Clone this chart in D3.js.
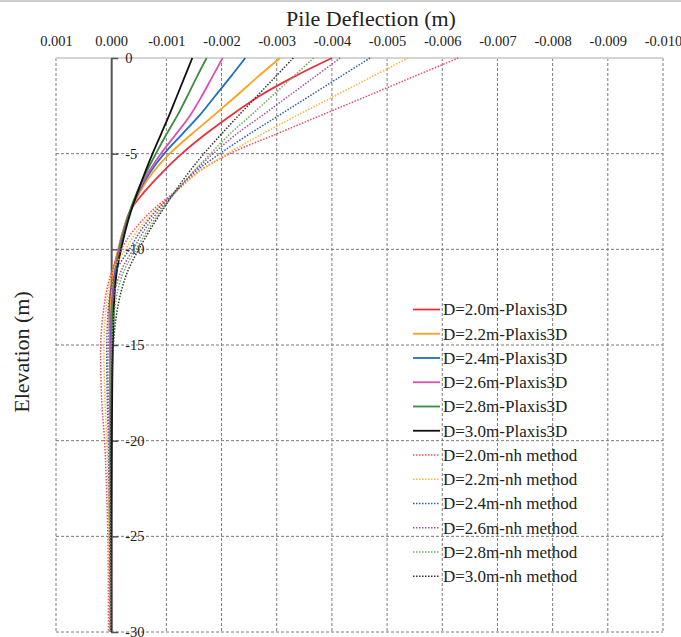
<!DOCTYPE html>
<html>
<head>
<meta charset="utf-8">
<script src="https://cdn.jsdelivr.net/npm/d3@7"></script>
<style>
  html, body { margin: 0; padding: 0; background: #fff; }
  svg { display: block; }
  svg text { font-family: "Liberation Serif", "Times New Roman", "DejaVu Serif", serif !important; }
</style>
</head>
<body>
<svg id="chart" width="681" height="637"></svg>
<script>
// ---------- data ----------
const xTicks = [0.001, 0, -0.001, -0.002, -0.003, -0.004, -0.005, -0.006, -0.007, -0.008, -0.009, -0.010];
const xTickLabels = ["0.001", "0.000", "-0.001", "-0.002", "-0.003", "-0.004", "-0.005", "-0.006", "-0.007", "-0.008", "-0.009", "-0.010"];
const yTicks = [0, -5, -10, -15, -20, -25, -30];
const yTickLabels = ["0", "-5", "-10", "-15", "-20", "-25", "-30"];

const seriesNames = [
  "D=2.0m-Plaxis3D", "D=2.2m-Plaxis3D", "D=2.4m-Plaxis3D", "D=2.6m-Plaxis3D", "D=2.8m-Plaxis3D", "D=3.0m-Plaxis3D",
  "D=2.0m-nh method", "D=2.2m-nh method", "D=2.4m-nh method", "D=2.6m-nh method", "D=2.8m-nh method", "D=3.0m-nh method"
];

// elevations (m) for Plaxis3D results
const elevPlaxis = [0, -1, -2, -3, -4, -5, -6, -7, -8, -9, -10, -11, -12, -13, -14, -15, -17, -20, -25, -30];
const plaxisD20 = [-0.00400, -0.00330, -0.00268, -0.00217, -0.00170, -0.00128, -0.00092, -0.00060, -0.00034, -0.00022, -0.00013, -0.00005, 0.00000, 0.00003, 0.00003, 0.00002, 0.00002, 0.00001, 0, 0];
const plaxisD22 = [-0.00306, -0.00265, -0.00226, -0.00186, -0.00145, -0.00106, -0.00075, -0.00052, -0.00035, -0.00022, -0.00013, -0.00006, -0.00002, 0.00001, 0.00002, 0.00002, 0.00002, 0.00001, 0, 0];
const plaxisD24 = [-0.00243, -0.00216, -0.00188, -0.00160, -0.00128, -0.00096, -0.00070, -0.00050, -0.00035, -0.00023, -0.00014, -0.00008, -0.00004, -0.00001, 0, 0.00001, 0.00001, 0.00001, 0, 0];
const plaxisD26 = [-0.00202, -0.00183, -0.00164, -0.00143, -0.00117, -0.00090, -0.00067, -0.00049, -0.00034, -0.00023, -0.00015, -0.00009, -0.00005, -0.00002, -0.00001, 0, 0.00001, 0.00001, 0, 0];
const plaxisD28 = [-0.00173, -0.00155, -0.00138, -0.00120, -0.00100, -0.00081, -0.00063, -0.00047, -0.00034, -0.00024, -0.00016, -0.00010, -0.00006, -0.00003, -0.00002, -0.00001, 0, 0, 0, 0];
const plaxisD30 = [-0.00147, -0.00133, -0.00119, -0.00105, -0.00090, -0.00075, -0.00061, -0.00048, -0.00036, -0.00026, -0.00018, -0.00011, -0.00007, -0.00005, -0.00004, -0.00003, -0.00002, -0.00001, 0, 0];

// elevations (m) for nh method results
const elevNh = [0, -1, -2, -3, -4, -5, -6, -7, -8, -9, -10, -11, -12, -13, -14, -15, -16, -18, -20, -22, -25, -28, -30];
const nhD20 = [-0.00629, -0.00546, -0.00463, -0.00380, -0.00297, -0.00215, -0.00155, -0.00115, -0.00073, -0.00041, -0.00018, -0.00003, 0.00007, 0.00013, 0.00017, 0.00019, 0.00019, 0.00017, 0.00012, 0.00009, 0.00006, 0.00005, 0.00005];
const nhD22 = [-0.00538, -0.00471, -0.00404, -0.00337, -0.00272, -0.00210, -0.00157, -0.00117, -0.00078, -0.00048, -0.00026, -0.00005, 0.00004, 0.00009, 0.00012, 0.00013, 0.00013, 0.00011, 0.00008, 0.00006, 0.00004, 0.00003, 0.00003];
const nhD24 = [-0.00469, -0.00414, -0.00359, -0.00304, -0.00249, -0.00197, -0.00150, -0.00116, -0.00081, -0.00054, -0.00033, -0.00011, 0.00000, 0.00005, 0.00007, 0.00008, 0.00008, 0.00007, 0.00005, 0.00004, 0.00003, 0.00002, 0.00002];
const nhD26 = [-0.00415, -0.00368, -0.00321, -0.00274, -0.00226, -0.00185, -0.00148, -0.00117, -0.00086, -0.00060, -0.00040, -0.00020, -0.00008, -0.00001, 0.00003, 0.00005, 0.00006, 0.00005, 0.00004, 0.00003, 0.00002, 0.00001, 0.00001];
const nhD28 = [-0.00367, -0.00329, -0.00291, -0.00253, -0.00214, -0.00180, -0.00147, -0.00117, -0.00090, -0.00066, -0.00045, -0.00025, -0.00013, -0.00007, -0.00003, -0.00001, 0.00001, 0.00002, 0.00002, 0.00002, 0.00001, 0.00001, 0.00001];
const nhD30 = [-0.00330, -0.00297, -0.00264, -0.00231, -0.00199, -0.00168, -0.00140, -0.00115, -0.00092, -0.00070, -0.00050, -0.00032, -0.00020, -0.00012, -0.00007, -0.00004, -0.00002, 0.00000, 0.00001, 0.00001, 0.00001, 0.00000, 0.00000];

// ---------- build series ----------
const solidColors = ["#e8303c", "#ffa01e", "#1f6fc0", "#dc4eb4", "#3d8c40", "#111111"];
const dotColors   = ["#f04a62", "#ffb436", "#2f5f9e", "#a4549c", "#62b05a", "#333333"];
const plaxisVals = [plaxisD20, plaxisD22, plaxisD24, plaxisD26, plaxisD28, plaxisD30];
const nhVals = [nhD20, nhD22, nhD24, nhD26, nhD28, nhD30];

const series = [];
plaxisVals.forEach((v, i) => series.push({
  name: seriesNames[i], color: solidColors[i], dotted: false,
  pts: v.map((d, j) => ({ d: d, z: elevPlaxis[j] }))
}));
nhVals.forEach((v, i) => series.push({
  name: seriesNames[6 + i], color: dotColors[i], dotted: true,
  pts: v.map((d, j) => ({ d: d, z: elevNh[j] }))
}));

// ---------- layout ----------
const FONT = '"Liberation Serif", "Times New Roman", "DejaVu Serif", serif';
const svg = d3.select("#chart");
const L = 56, R = 663, T = 58, B = 632;
const x = d3.scaleLinear().domain([0.001, -0.010]).range([L, R]);
const y = d3.scaleLinear().domain([0, -30]).range([T, B]);

svg.append("rect").attr("width", 681).attr("height", 637).attr("fill", "#fff");
// image top border line
svg.append("line").attr("x1", 0).attr("x2", 681).attr("y1", 1).attr("y2", 1)
  .attr("stroke", "#cfcfcf").attr("stroke-width", 2);

// grid
const grid = svg.append("g");
grid.selectAll("line.v").data(xTicks.filter(t => t !== 0)).join("line")
  .attr("x1", d => x(d)).attr("x2", d => x(d)).attr("y1", T).attr("y2", B)
  .attr("stroke", "#7a7a7a").attr("stroke-width", 1).attr("stroke-dasharray", "3,2");
grid.selectAll("line.h").data(yTicks.filter(t => t !== 0)).join("line")
  .attr("x1", L).attr("x2", R).attr("y1", d => y(d)).attr("y2", d => y(d))
  .attr("stroke", "#7a7a7a").attr("stroke-width", 1).attr("stroke-dasharray", "3,2");
grid.append("line").attr("x1", L).attr("x2", R).attr("y1", T).attr("y2", T)
  .attr("stroke", "#d4d4d4").attr("stroke-width", 2);

// top axis
const xAxis = d3.axisTop(x).tickValues(xTicks)
  .tickFormat((d, i) => xTickLabels[i]).tickSize(0).tickPadding(12);
const gx = svg.append("g").attr("transform", `translate(0,${T})`).call(xAxis);
gx.attr("font-family", null);
gx.select(".domain").remove();
gx.selectAll("text").attr("font-size", 14.5).attr("fill", "#222").style("font-family", FONT);

// y axis at deflection 0
const yAxis = d3.axisRight(y).tickValues(yTicks)
  .tickFormat((d, i) => yTickLabels[i]).tickSize(7).tickSizeOuter(0).tickPadding(7);
const gy = svg.append("g").attr("transform", `translate(${x(0)},0)`).call(yAxis);
gy.attr("font-family", null);
gy.select(".domain").attr("stroke", "#555").attr("stroke-width", 2);
gy.selectAll(".tick line").attr("stroke", "#555").attr("stroke-width", 1.5);
gy.selectAll("text").attr("font-size", 14.5).attr("fill", "#222").style("font-family", FONT);

// curves
const line = d3.line().x(p => x(p.d)).y(p => y(p.z)).curve(d3.curveCatmullRom.alpha(0.5));
const gl = svg.append("g");
series.forEach(s => {
  gl.append("path").datum(s.pts).attr("d", line)
    .attr("fill", "none").attr("stroke", s.color)
    .attr("stroke-width", s.dotted ? 1.5 : 1.8)
    .attr("stroke-dasharray", s.dotted ? "1.5,1.5" : null);
});

// titles
svg.append("text").attr("x", 371).attr("y", 25.5).attr("text-anchor", "middle")
  .attr("font-size", 22).attr("fill", "#222").style("font-family", FONT).text("Pile Deflection (m)");
svg.append("text").attr("transform", "translate(29,352) rotate(-90)")
  .attr("text-anchor", "middle").attr("font-size", 22).attr("fill", "#222")
  .style("font-family", FONT).text("Elevation (m)");

// legend
const lg = svg.append("g").attr("transform", "translate(413,309.5)");
const rowH = 24.25;
series.forEach((s, i) => {
  const g = lg.append("g").attr("transform", `translate(0,${i * rowH})`);
  g.append("line").attr("x1", 0).attr("x2", 27).attr("y1", 0).attr("y2", 0)
    .attr("stroke", s.color).attr("stroke-width", s.dotted ? 1.3 : 1.8)
    .attr("stroke-dasharray", s.dotted ? "1.5,1.5" : null);
  g.append("text").attr("x", 30).attr("y", 0).attr("dy", "0.35em")
    .attr("font-size", 17).attr("fill", "#222").style("font-family", FONT).text(s.name);
});
</script>
</body>
</html>
